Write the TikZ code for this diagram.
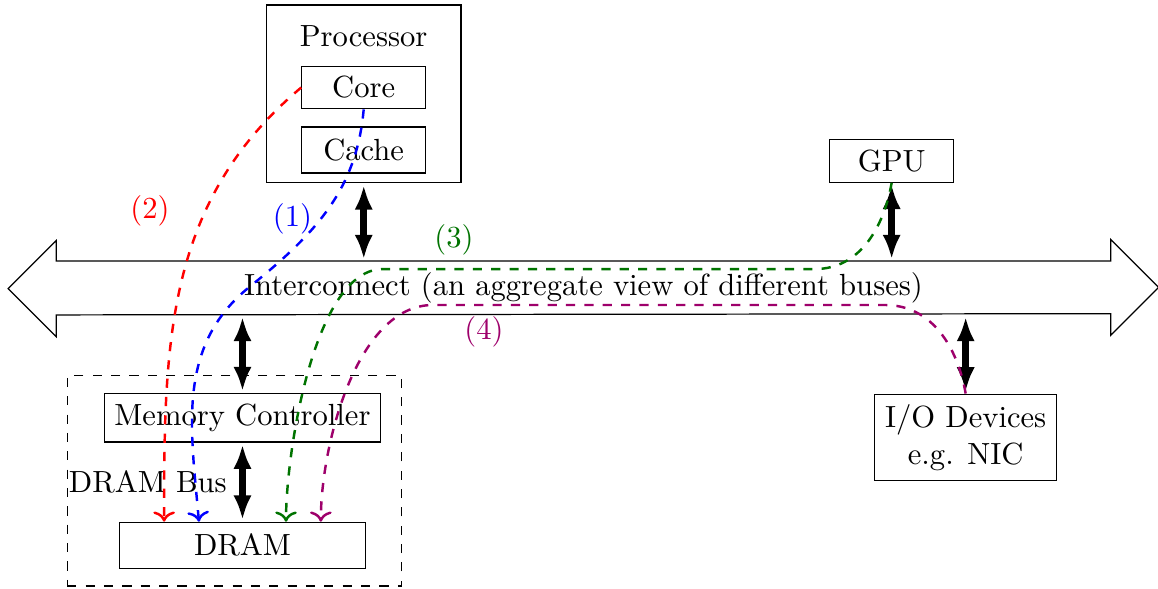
\documentclass[tikz,border=0pt]{standalone}
\usepackage{tikz}
\usetikzlibrary{arrows.meta, positioning, calc}
\definecolor{pathgreen}{RGB}{0,115,0}
\definecolor{pathpurple}{RGB}{158,0,107}

\begin{document}
\begin{tikzpicture}[
  block/.style={draw, minimum width=1.42cm, align=center},
  busarrow/.style={{Latex[length=8pt,width=6pt]}-{Latex[length=8pt,width=6pt]},
                   line width=2.2pt, shorten <=0.6pt, shorten >=0.6pt},
  route/.style={->, dashed, thick}]

  \useasboundingbox (0,0) rectangle (13.30,-6.765);

  % processor with core and cache
  \node[draw, minimum width=2.232cm, minimum height=2.041cm] (cpu) at (4.178,-1.078) {};
  \node[anchor=base] (cputitle) at (4.177,-0.536) {Processor};
  \node[block] (core)  at (4.177,-1.005) {Core};
  \node[block, minimum height=1.5em] (cache) at (4.177,-1.723) {Cache};

  \node[block] (gpu) at (10.241,-1.847) {GPU};

  % interconnect drawn as a double arrow
  \node[minimum width=12.098cm, minimum height=0.604cm, inner sep=0] (bus) at (6.701,-3.308)
       {Interconnect (an aggregate view of different buses)};
  \draw (bus.north west) -- (bus.north east) -- ++(0,0.249) -- ++(0.551,-0.551)
        -- ++(-0.551,-0.551) -- ++(0,0.249) -- (bus.south west) -- ++(0,-0.249)
        -- ++(-0.551,0.551) -- ++(0.551,0.551) -- cycle;

  % memory side
  \node[draw, dashed, minimum width=3.841cm, minimum height=2.415cm] (memsys) at (2.693,-5.522) {};
  \node[draw] (mc) at (2.785,-4.799) {Memory Controller};
  \node[draw, minimum width=2.829cm, minimum height=1.5em] (dram) at (2.785,-6.263) {DRAM};

  \node[draw, align=center] (io) at (11.091,-5.023) {I/O Devices\\e.g. NIC};

  \draw[busarrow] (cpu.south) -- (cpu.south |- bus.north);
  \draw[busarrow] (gpu.south) -- (gpu.south |- bus.north);
  \draw[busarrow] (bus.south -| mc.north) -- (mc.north);
  \draw[busarrow] (mc.south) -- node[midway, left=0.7pt] (busname) {DRAM Bus} (dram.north);
  \draw[busarrow] (bus.south -| io.north) -- (io.north);

  % access paths into DRAM
  \coordinate (slotr) at ($(dram.north)+(-0.9,0)$);
  \coordinate (slotb) at ($(dram.north)+(-0.5,0)$);
  \coordinate (slotg) at ($(dram.north)+(0.5,0)$);
  \coordinate (slotp) at ($(dram.north)+(0.9,0)$);
  \coordinate (bmid) at (2.860,-3.300);
  \coordinate (gone) at (9.360,-3.090);
  \coordinate (gtwo) at (4.399,-3.090);
  \coordinate (pone) at (10.164,-3.503);
  \coordinate (ptwo) at (4.973,-3.503);

  \draw[route, red] (core.west) to[out=220, in=90] (slotr);
  \draw[route, blue] (core.south) to[out=-95, in=39] (bmid) to[out=219, in=95] (slotb);
  \draw[route, pathgreen] (gpu.south) to[out=-100, in=0] (gone) -- (gtwo)
        to[out=180, in=90, looseness=.65] (slotg);
  \draw[route, pathpurple] (io.north) to[out=100, in=0] (pone) -- (ptwo)
        to[out=180, in=90, looseness=.8] (slotp);

  \node[text=blue]       (tagone)   at (3.359,-2.515) {(1)};
  \node[text=red]        (tagtwo)   at (1.723,-2.423) {(2)};
  \node[text=pathgreen]  (tagthree) at (5.214,-2.756) {(3)};
  \node[text=pathpurple] (tagfour)  at (5.559,-3.810) {(4)};
\end{tikzpicture}
\end{document}
